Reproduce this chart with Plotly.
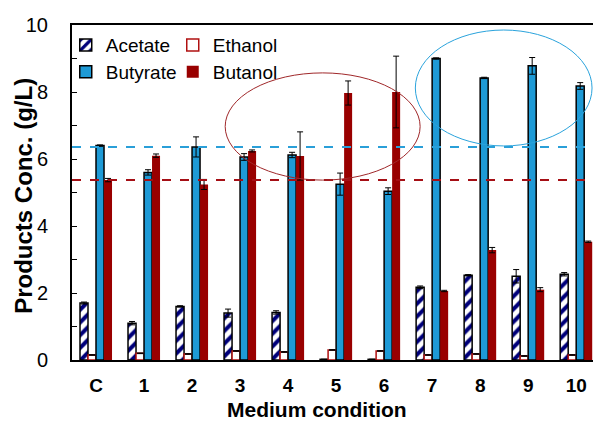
import plotly.graph_objects as go

categories = ["C", "1", "2", "3", "4", "5", "6", "7", "8", "9", "10"]
acetate = [1.70, 1.10, 1.60, 1.40, 1.42, 0.02, 0.02, 2.17, 2.53, 2.50, 2.56]
acetate_err = [0.03, 0.05, 0.02, 0.12, 0.05, 0.0, 0.0, 0.04, 0.02, 0.20, 0.05]
ethanol = [0.15, 0.20, 0.18, 0.27, 0.24, 0.30, 0.27, 0.15, 0.18, 0.12, 0.15]
ethanol_err = [0.01] * 11
butyrate = [6.40, 5.60, 6.36, 6.06, 6.12, 5.25, 5.04, 9.00, 8.42, 8.78, 8.18]
butyrate_err = [0.02, 0.08, 0.30, 0.10, 0.08, 0.33, 0.10, 0.02, 0.02, 0.25, 0.10]
butanol = [5.37, 6.10, 5.24, 6.24, 6.09, 7.97, 8.00, 2.06, 3.28, 2.10, 3.53]
butanol_err = [0.05, 0.05, 0.15, 0.03, 0.72, 0.36, 1.07, 0.02, 0.08, 0.06, 0.02]
ref_butyrate = 6.36
ref_butanol = 5.37

FONT = "Liberation Sans, Arial, sans-serif"
x = list(range(len(categories)))

def err(vals):
    return dict(type="data", array=vals, color="black", thickness=1, width=3)

fig = go.Figure()
fig.add_trace(go.Bar(
    x=x, y=acetate, name="Acetate", error_y=err(acetate_err),
    marker=dict(color="white", line=dict(color="black", width=1.5),
                pattern=dict(shape="/", fillmode="replace", fgcolor="#00007a", bgcolor="white",
                             fgopacity=1, size=9, solidity=0.45)),
    legend="legend"))
fig.add_trace(go.Bar(
    x=x, y=ethanol, name="Ethanol", error_y=err(ethanol_err),
    marker=dict(color="white", line=dict(color="#b01010", width=1.5)),
    legend="legend"))
fig.add_trace(go.Bar(
    x=x, y=butyrate, name="Butyrate", error_y=err(butyrate_err),
    marker=dict(color="#1e9ad6", line=dict(color="black", width=1.5)),
    legend="legend2"))
fig.add_trace(go.Bar(
    x=x, y=butanol, name="Butanol", error_y=err(butanol_err),
    marker=dict(color="#990000", line=dict(color="#990000", width=0)),
    legend="legend2"))

shapes = [
    dict(type="line", xref="paper", x0=0, x1=1, yref="y", y0=ref_butyrate, y1=ref_butyrate,
         line=dict(color="#2a9fd8", width=2, dash="dash")),
    dict(type="line", xref="paper", x0=0, x1=1, yref="y", y0=ref_butanol, y1=ref_butanol,
         line=dict(color="#a50f15", width=2, dash="dash")),
    dict(type="circle", xref="x", yref="y", x0=2.69, x1=6.75, y0=5.37, y1=8.57,
         line=dict(color="#a0282a", width=1)),
    dict(type="circle", xref="x", yref="y", x0=6.65, x1=10.33, y0=6.39, y1=9.85,
         line=dict(color="#2aa3dc", width=1)),
]

annotations = [
    dict(text="<b>Products Conc. (g/L)</b>", textangle=-90, xref="paper", yref="paper",
         x=0, y=0.49, xanchor="center", yanchor="middle", xshift=-48, showarrow=False,
         font=dict(family=FONT, size=24, color="black")),
    dict(text="<b>Medium condition</b>", xref="paper", yref="paper",
         x=0.47, y=0, xanchor="center", yanchor="middle", yshift=-49, showarrow=False,
         font=dict(family=FONT, size=21, color="black")),
]

legend_common = dict(orientation="h", font=dict(family=FONT, size=19, color="black"),
                     bgcolor="rgba(0,0,0,0)", borderwidth=0, itemwidth=30,
                     entrywidth=62, entrywidthmode="pixels", xanchor="left", yanchor="middle",
                     tracegroupgap=0, itemclick=False)

fig.update_layout(
    width=593, height=421,
    margin=dict(l=72, r=0, t=25, b=61),
    paper_bgcolor="white", plot_bgcolor="white",
    barmode="group", bargap=0.333, bargroupgap=0,
    font=dict(family=FONT, color="black"),
    shapes=shapes,
    annotations=annotations,
    legend=dict(x=-0.012, y=0.94, **legend_common),
    legend2=dict(x=-0.012, y=0.86, **legend_common),
    xaxis=dict(range=[-0.5, 10.35], tickvals=x, ticktext=categories,
               tickfont=dict(family=FONT, size=19, color="black", weight="bold"),
               showline=True, linecolor="black", linewidth=2, mirror=True,
               ticks="", showgrid=False, zeroline=False, ticklabelstandoff=7),
    yaxis=dict(range=[0, 10], dtick=2, tick0=0,
               tickfont=dict(family=FONT, size=20, color="black"),
               showline=True, linecolor="black", linewidth=2, mirror=False,
               ticks="inside", ticklen=5, tickcolor="black", tickwidth=1,
               minor=dict(dtick=1, ticks="inside", ticklen=5, tickcolor="black", tickwidth=1),
               showgrid=False, zeroline=False, ticklabelstandoff=18),
)

fig.write_html("out.html")
